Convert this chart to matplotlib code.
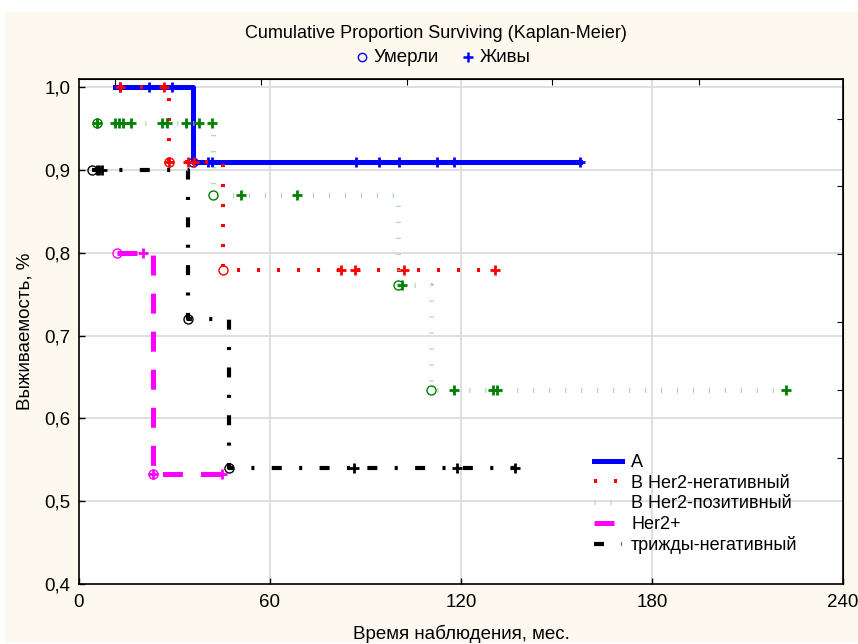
import matplotlib
matplotlib.use("Agg")
import matplotlib.pyplot as plt
from matplotlib.lines import Line2D
from matplotlib.patches import Rectangle
from matplotlib.ticker import FixedLocator, FuncFormatter

plt.rcParams['font.family'] = ['Liberation Sans', 'DejaVu Sans']
plt.rcParams['lines.scale_dashes'] = False

# --- data (months, survival proportion) ---
groups = ["A", "В Her2-негативный", "В Her2-позитивный", "Her2+", "трижды-негативный"]

a_t = [11.3, 35.7, 157.4]
a_s = [1.0, 0.909, 0.909]
a_dead_t = [35.7]
a_dead_s = [0.909]
a_cens_t = [12.9, 22.0, 29.2, 40.5, 41.8, 86.9, 94.3, 100.6, 112.5, 117.8, 157.4]
a_cens_s = [1.0, 1.0, 1.0, 0.909, 0.909, 0.909, 0.909, 0.909, 0.909, 0.909, 0.909]

bn_t = [12.9, 28.3, 45.1, 130.7]
bn_s = [1.0, 0.909, 0.779, 0.779]
bn_dead_t = [28.3, 45.1]
bn_dead_s = [0.909, 0.779]
bn_cens_t = [12.9, 26.6, 28.3, 34.3, 36.2, 82.3, 86.7, 102.1, 130.7]
bn_cens_s = [1.0, 1.0, 0.909, 0.909, 0.909, 0.779, 0.779, 0.779, 0.779]

bp_t = [5.8, 42.2, 100.3, 110.6, 222.0]
bp_s = [0.957, 0.870, 0.761, 0.634, 0.634]
bp_dead_t = [5.8, 42.2, 100.3, 110.6]
bp_dead_s = [0.957, 0.870, 0.761, 0.634]
bp_cens_t = [5.8, 11.3, 12.6, 13.8, 16.3, 26.1, 27.7, 33.6, 37.7, 41.8,
             50.8, 68.5, 101.5, 117.8, 130.2, 131.2, 222.0]
bp_cens_s = [0.957] * 10 + [0.870, 0.870, 0.761, 0.634, 0.634, 0.634, 0.634]

h_t = [11.8, 23.1, 45.1]
h_s = [0.800, 0.533, 0.533]
h_dead_t = [11.8, 23.1]
h_dead_s = [0.800, 0.533]
h_cens_t = [20.2, 23.4, 44.8]
h_cens_s = [0.800, 0.533, 0.533]

tn_t = [4.2, 34.1, 47.1, 137.0]
tn_s = [0.900, 0.720, 0.540, 0.540]
tn_dead_t = [4.2, 34.1, 47.1]
tn_dead_s = [0.900, 0.720, 0.540]
tn_cens_t = [5.6, 6.4, 7.2, 86.4, 118.7, 137.0]
tn_cens_s = [0.900, 0.900, 0.900, 0.540, 0.540, 0.540]

x_ticks = [0, 60, 120, 180, 240]
y_ticks = [0.4, 0.5, 0.6, 0.7, 0.8, 0.9, 1.0]
top_ticks = [11.3, 57.2, 103.0, 148.6, 194.7]
right_ticks = [0.962, 0.880, 0.798, 0.716, 0.634, 0.552]

fig = plt.figure(figsize=(8.58, 6.44), dpi=100)
fig.patch.set_facecolor('white')
fig.add_artist(Rectangle((5 / 858, 1 / 644), 853 / 858, 631 / 644,
                         transform=fig.transFigure, facecolor='#fdf9ee',
                         edgecolor='none', zorder=-10))

ax = fig.add_axes([79 / 858, 60 / 644, 764 / 858, 505 / 644])
ax.set_facecolor('white')
ax.set_xlim(0, 240)
ax.set_ylim(0.4, 1.0097)

# grid
for gx in x_ticks[1:-1]:
    ax.axvline(gx, color='#dcdcdc', lw=1.3, zorder=0)
for gy in y_ticks[1:]:
    ax.axhline(gy, color='#dcdcdc', lw=1.3, zorder=0)

styles = [
    dict(color='#0000ff', lw=3.6, ls='-'),
    dict(color='#ff0000', lw=2.9, ls=(0, (2.2, 12.2))),
    dict(color='#98d498', lw=3.6, ls=(0, (0.7, 10.8))),
    dict(color='#ff00ff', lw=3.6, ls=(0, (14.4, 13.0))),
    dict(color='#000000', lw=3.0, ls=(0, (7.2, 12.5, 2.2, 12.5))),
]
mark_colors = ['#0000ff', '#ff0000', '#008000', '#ff00ff', '#000000']

curves = [
    (a_t, a_s, a_dead_t, a_dead_s, a_cens_t, a_cens_s),
    (bn_t, bn_s, bn_dead_t, bn_dead_s, bn_cens_t, bn_cens_s),
    (bp_t, bp_s, bp_dead_t, bp_dead_s, bp_cens_t, bp_cens_s),
    (h_t, h_s, h_dead_t, h_dead_s, h_cens_t, h_cens_s),
    (tn_t, tn_s, tn_dead_t, tn_dead_s, tn_cens_t, tn_cens_s),
]

handles = []
for i, (t, s, dt, ds, ct, cs) in enumerate(curves):
    st = styles[i]
    ln, = ax.plot(t, s, drawstyle='steps-post', color=st['color'],
                  lw=st['lw'], linestyle=st['ls'], dash_capstyle='butt',
                  zorder=2 + i, label=groups[i])
    handles.append(ln)
    ax.plot(dt, ds, 'o', mfc='none', mec=mark_colors[i], ms=6.5, mew=1.0,
            zorder=2.5 + i)
    ax.plot(ct, cs, '+', color=mark_colors[i], ms=7, mew=2.0, zorder=2.5 + i)

# ticks
ax.xaxis.set_major_locator(FixedLocator(x_ticks))
ax.yaxis.set_major_locator(FixedLocator(y_ticks))
ax.yaxis.set_major_formatter(FuncFormatter(lambda v, p: f"{v:.1f}".replace('.', ',')))
ax.tick_params(axis='both', direction='in', length=4, width=1, labelsize=13.5,
               colors='black')
ax.tick_params(axis='x', pad=7)
ax.tick_params(axis='y', pad=6)
for sp in ax.spines.values():
    sp.set_linewidth(1.2)

ax_top = ax.secondary_xaxis('top')
ax_top.set_ticks(top_ticks)
ax_top.tick_params(direction='in', length=4, labeltop=False)
ax_right = ax.secondary_yaxis('right')
ax_right.set_ticks(right_ticks)
ax_right.tick_params(direction='in', length=4, labelright=False)

ax.set_xlabel("Время наблюдения, мес.", fontsize=13.5, labelpad=10)
ax.set_ylabel("Выживаемость, %", fontsize=13.5, labelpad=8)

# title and marker key
fig.text(436 / 858, 1 - 33 / 644, "Cumulative Proportion Surviving (Kaplan-Meier)",
         ha='center', va='center', fontsize=13)
ky = 1 - 57 / 644
fig.add_artist(Line2D([362 / 858], [ky], marker='o', mfc='none', mec='#0000ff',
                      ms=6, mew=1.0, transform=fig.transFigure))
fig.text(373 / 858, ky, "Умерли", ha='left', va='center', fontsize=13.5)
fig.add_artist(Line2D([468 / 858], [ky], marker='+', color='#0000ff',
                      ms=7, mew=1.8, transform=fig.transFigure))
fig.text(480 / 858, ky, "Живы", ha='left', va='center', fontsize=13.5)

leg = ax.legend(handles=handles, loc='upper left',
                bbox_to_anchor=(594 / 858, 1 - 454 / 644),
                bbox_transform=fig.transFigure, frameon=False, fontsize=13,
                borderpad=0, borderaxespad=0, handlelength=1.55,
                handletextpad=0.5, labelspacing=0.2)

fig.savefig("out.png", dpi=100, facecolor=fig.get_facecolor())
